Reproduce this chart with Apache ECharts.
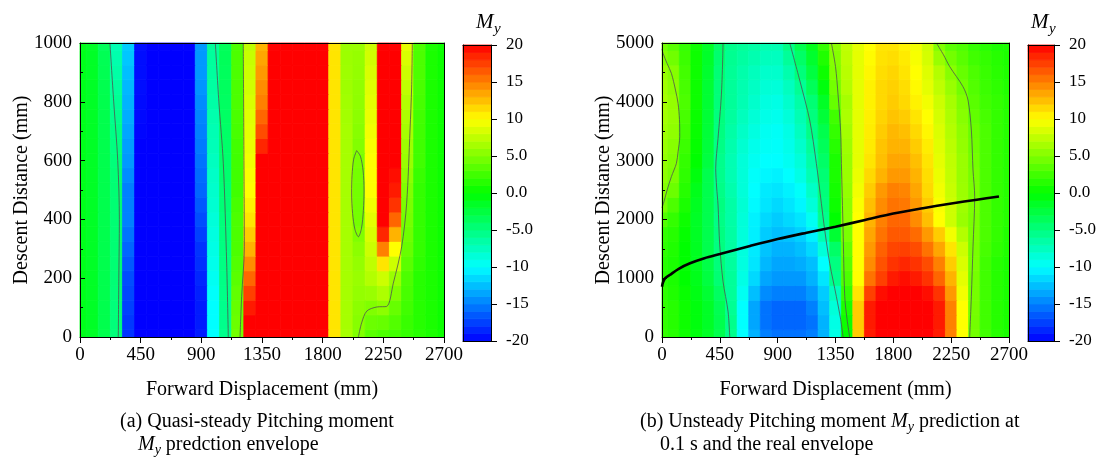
<!DOCTYPE html>
<html>
<head>
<meta charset="utf-8">
<script src="https://cdn.jsdelivr.net/npm/echarts@6/dist/echarts.min.js"></script>
<style>
  html, body { margin: 0; padding: 0; background: #ffffff; }
  #chart { width: 1102px; height: 462px; }
</style>
</head>
<body>
<div id="chart"></div>
<script>
// Cell centres along the forward displacement (mm), shared by both maps
const xCells = [0, 90, 180, 270, 360, 450, 540, 630, 720, 810, 900, 990, 1080, 1170, 1260, 1350,
  1440, 1530, 1620, 1710, 1800, 1890, 1980, 2070, 2160, 2250, 2340, 2430, 2520, 2610, 2700];

// (a) quasi-steady map: descent distance rows (mm)
const yCellsA = [0, 50, 100, 150, 200, 250, 300, 350, 400, 450, 500,
  550, 600, 650, 700, 750, 800, 850, 900, 950, 1000];
// (a) pitching moment My, one row per entry of yCellsA, one value per entry of xCells
const momentA = [
  [-1, -1.5, -3, -4.8, -18, -20, -20, -20, -20, -20, -19, -10, -5.5, 4.5, 20, 20, 20, 20, 20, 20, 20, 11, 6.5, 5, 3.5, 3, 2.5, 2, 1.5, 1, 0.5],
  [-1, -1.5, -3, -4.8, -17.8, -20, -20, -20, -20, -20, -19, -10, -5.5, 4.2, 20, 20, 20, 20, 20, 20, 20, 11, 6.5, 5.3, 4.2, 4, 3.2, 2.2, 1.5, 1, 0.5],
  [-1, -1.5, -3, -4.8, -17.5, -20, -20, -20, -20, -20, -19, -10, -5.5, 4, 19, 20, 20, 20, 20, 20, 20, 11, 6.5, 5.5, 5, 5.5, 4, 2.5, 1.5, 1, 0.5],
  [-1, -1.5, -3, -4.7, -17.2, -20, -20, -20, -20, -20, -18.8, -9.8, -5.3, 3.8, 17.5, 20, 20, 20, 20, 20, 20, 11, 6.5, 5.8, 6, 6.8, 5, 2.8, 1.5, 1, 0.5],
  [-1, -1.5, -3, -4.6, -17, -20, -20, -20, -20, -20, -18.5, -9.5, -5.2, 3.5, 16, 20, 20, 20, 20, 20, 20, 11, 6.5, 6, 7, 8, 6, 3, 1.5, 1, 0.5],
  [-1, -1.5, -3, -4.5, -16.5, -20, -20, -20, -20, -20, -18.2, -9.2, -5.1, 3.2, 14.5, 20, 20, 20, 20, 20, 20, 11, 6.5, 5.8, 7.5, 11, 8, 3.5, 1.8, 1, 0.5],
  [-1, -1.5, -3, -4.5, -16, -20, -20, -20, -20, -20, -18, -9, -5, 3, 13, 20, 20, 20, 20, 20, 20, 11, 6.5, 5.5, 8, 15, 10, 4, 2, 1, 0.5],
  [-1, -1.5, -3, -4.5, -15.5, -20, -20, -20, -20, -20, -17.5, -8.8, -4.9, 3, 12, 20, 20, 20, 20, 20, 20, 11, 6.5, 5, 8.5, 18.5, 13, 4.3, 2, 1, 0.5],
  [-1, -1.5, -3, -4.5, -15, -20, -20, -20, -20, -20, -17, -8.5, -4.8, 3, 11, 20, 20, 20, 20, 20, 20, 11, 6.5, 4.6, 9, 20, 16, 4.6, 2, 1, 0.5],
  [-1, -1.5, -3, -4.5, -15, -20, -20, -20, -20, -20, -16.5, -8.2, -4.6, 2.8, 10.5, 20, 20, 20, 20, 20, 20, 11, 6.5, 4.5, 9.5, 20, 18, 4.8, 2, 1, 0.5],
  [-1, -1.5, -3, -4.5, -15, -20, -20, -20, -20, -20, -16, -8, -4.5, 2.5, 10, 20, 20, 20, 20, 20, 20, 11, 6.5, 4.5, 10, 20, 19, 5, 2, 1, 0.5],
  [-1, -1.5, -3, -4.6, -14.5, -20, -20, -20, -20, -20, -15.8, -7.8, -4.3, 2.5, 9.8, 20, 20, 20, 20, 20, 20, 11, 6.5, 4.6, 10, 20, 19.5, 5.5, 2.2, 1, 0.5],
  [-1, -1.5, -3, -4.8, -14, -20, -20, -20, -20, -20, -15.5, -7.5, -4.2, 2.5, 9.5, 20, 20, 20, 20, 20, 20, 11, 6.5, 4.8, 10, 20, 20, 6, 2.5, 1, 0.5],
  [-1, -1.5, -3, -5, -13.8, -20, -20, -20, -20, -20, -15.2, -7.2, -4.1, 2.6, 9.2, 18.5, 20, 20, 20, 20, 20, 11, 6.5, 5.1, 9.8, 20, 20, 6.2, 2.5, 1, 0.5],
  [-1, -1.5, -3, -5.2, -13.5, -19.8, -20, -20, -20, -20, -15, -7, -4, 2.8, 9, 17, 20, 20, 20, 20, 20, 11, 6.5, 5.3, 9.5, 20, 20, 6.5, 2.5, 1, 0.5],
  [-1, -1.5, -3, -5.5, -13.2, -19.7, -20, -20, -20, -20, -14.8, -6.8, -3.9, 2.9, 8.8, 16, 20, 20, 20, 20, 20, 11, 6.4, 5.5, 9.2, 20, 20, 6.8, 2.6, 1, 0.5],
  [-1, -1.5, -3, -5.8, -13, -19.6, -20, -20, -20, -20, -14.5, -6.5, -3.8, 3, 8.5, 15, 20, 20, 20, 20, 20, 11, 6.3, 5.6, 9, 20, 20, 7, 2.8, 1, 0.5],
  [-1, -1.5, -3.1, -6.1, -12.8, -19.5, -20, -20, -20, -20, -14.2, -6.3, -3.7, 3, 8.2, 14.5, 20, 20, 20, 20, 20, 11, 6.2, 5.7, 8.8, 20, 20, 7.5, 2.9, 1, 0.5],
  [-1, -1.5, -3.2, -6.5, -12.5, -19.5, -20, -20, -20, -20, -14, -6.2, -3.6, 3, 8, 14, 20, 20, 20, 20, 20, 11, 6.2, 5.8, 8.5, 20, 20, 8, 3, 1, 0.5],
  [-1, -1.5, -3.3, -6.8, -12.2, -19.5, -20, -20, -20, -20, -14, -6.1, -3.5, 3, 7.8, 13.5, 20, 20, 20, 20, 20, 11, 6.1, 5.9, 8.2, 20, 20, 8.5, 3, 1, 0.5],
  [-1, -1.5, -3.5, -7, -12, -19.5, -20, -20, -20, -20, -14, -6, -3.5, 3, 7.5, 13, 20, 20, 20, 20, 20, 11, 6, 6, 8, 20, 20, 9, 3, 1, 0.5]
];

// (b) unsteady map: descent distance rows (mm)
const yCellsB = [0, 250, 500, 750, 1000, 1250, 1500, 1750, 2000, 2250, 2500,
  2750, 3000, 3250, 3500, 3750, 4000, 4250, 4500, 4750, 5000];
// (b) pitching moment My at 0.1 s
const momentB = [
  [2, 1.5, 0.5, -0.5, -1.5, -3, -5.5, -10, -13, -15, -15.5, -15.5, -15.5, -15, -13, -9, 0, 12, 19, 20, 20, 20, 20, 20, 19, 15, 10, 4.5, 2.5, 1.5, 1],
  [2, 1.5, 0.5, -0.5, -1.5, -3, -5.5, -10, -13.5, -15.5, -16, -16, -16, -15.5, -13, -9, 0.5, 12, 19, 20, 20, 20, 20, 20, 19, 15, 10, 4.5, 2.5, 1.5, 1],
  [2, 1.5, 0.5, -0.5, -1.5, -3.2, -5.8, -10, -13.5, -15.5, -16, -16, -16, -15, -12.5, -8.5, 1, 12, 19, 20, 20, 20, 20, 20, 19, 15, 10, 4.6, 2.5, 1.5, 1],
  [1.8, 1.2, 0.3, -0.8, -2, -3.8, -6, -9.5, -12.5, -14.5, -15, -15, -15, -14, -12, -7.5, 2, 11, 17.5, 19.5, 20, 20, 20, 19.5, 18, 14, 9.5, 4.6, 2.5, 1.5, 1],
  [1.5, 1, 0, -1, -2.5, -4.5, -6, -9, -11.5, -13.5, -14, -14, -14, -13, -11, -5.5, 3, 10, 15.5, 17.5, 19, 19.5, 19, 18, 16, 13, 9, 4.6, 2.5, 1.5, 1],
  [1.5, 1, 0, -1.2, -2.8, -4.8, -6.2, -8.8, -11, -12.8, -13.5, -13.5, -13.2, -12.5, -10, -5, 3.5, 10, 14.5, 16.8, 18, 18.5, 18, 17, 15, 12, 8.5, 4.7, 2.5, 1.5, 1],
  [1.8, 1.2, 0, -1.3, -3, -5, -6.3, -8.7, -10.8, -12.3, -13, -13, -12.5, -11.5, -8.5, -4, 4, 10, 14, 16.2, 17.3, 17.5, 17, 15.5, 13.5, 11, 8, 4.7, 2.8, 1.8, 1.2],
  [2, 1.5, 0.2, -1.4, -3, -5, -6.4, -8.6, -10.6, -12, -12.5, -12.3, -11.8, -10.5, -7, -2, 4.8, 10, 13.5, 15.5, 16.5, 16.5, 15.8, 14, 12, 9.5, 7, 4.8, 3, 2, 1.3],
  [3.2, 2, 0.5, -1.5, -3, -5.2, -6.5, -8.5, -10.5, -11.5, -12, -11.5, -11, -9.5, -5.5, 0, 5.5, 10, 13, 15, 16, 16, 14.5, 12.5, 10, 8, 6, 4.8, 3, 2, 1.5],
  [4.6, 3, 1, -1.3, -3, -5, -6.5, -8.3, -10.2, -11, -11.5, -11, -10.3, -8.5, -5, 0.5, 5.5, 9.8, 12.5, 14.5, 15.5, 15.3, 14, 12, 9.8, 8, 6.2, 4.9, 3, 2, 1.5],
  [5.2, 4.2, 1.5, -1, -3, -5.3, -6.8, -8.5, -10, -10.8, -11, -10.5, -9.8, -7.8, -4.8, 0.8, 5.8, 9.5, 12, 14, 15, 14.8, 13.5, 11.5, 9.5, 7.8, 6.1, 4.8, 3, 2, 1.5],
  [5.6, 4.8, 1.8, -0.5, -3, -5.5, -7, -8.5, -9.8, -10.3, -10.5, -10, -9, -7, -4.5, 1, 6, 9.2, 11.5, 13, 14, 14, 13, 11.3, 9.2, 7.6, 6, 4.7, 3, 2, 1.5],
  [5.8, 5, 2, 0, -2.5, -5.5, -7, -8.5, -9.5, -10, -10, -9.5, -8.5, -6.5, -4, 1, 6, 9, 11, 12.5, 13.5, 13.5, 12.5, 11, 9, 7.5, 6, 4.5, 3, 2, 1.5],
  [6, 5.3, 2.3, 0.2, -2.3, -5.2, -6.8, -8.2, -9.2, -9.7, -9.8, -9.2, -8, -6, -3.5, 1.5, 6.2, 9, 10.8, 12.3, 13, 13, 12, 10.7, 8.8, 7.3, 5.8, 4.3, 3, 2, 1.5],
  [6.2, 5.6, 2.6, 0.3, -2.2, -5, -6.5, -7.8, -8.8, -9.5, -9.7, -9, -7.5, -5.3, -3, 2, 6.4, 9, 10.7, 12, 12.8, 12.5, 11.5, 10.3, 8.6, 7, 5.6, 4.1, 3, 2, 1.5],
  [6.4, 5.8, 2.8, 0.4, -2.1, -4.9, -6.2, -7.4, -8.4, -9.1, -9.3, -8.5, -7, -4.9, -2.2, 2.5, 6.7, 9, 10.6, 11.7, 12.3, 12, 11, 10, 8.3, 6.8, 5.3, 3.8, 2.8, 2, 1.5],
  [6.5, 5.8, 3, 0.5, -2, -4.8, -6, -7, -8, -8.8, -9, -8, -6.5, -4.5, -1.5, 4, 6.5, 9, 10.5, 11.5, 12, 11.5, 10.5, 9.5, 8, 6.5, 5, 3.5, 2.5, 2, 1.5],
  [6.3, 5.5, 2.8, 0.5, -2, -4.7, -6, -6.9, -7.7, -8.4, -8.5, -7.5, -5.8, -3.5, -0.5, 4.5, 7, 9, 10.5, 11.5, 11.8, 11.3, 10.2, 9, 7.5, 6, 4.5, 3.2, 2.3, 1.8, 1.3],
  [6, 5.2, 2.6, 0.5, -1.8, -4.6, -5.9, -6.7, -7.4, -8, -8, -6.8, -4.8, -2.5, 0.5, 5, 7.2, 9, 10.3, 11.3, 11.6, 11, 10, 8.7, 7, 5.3, 4, 3, 2.2, 1.6, 1.2],
  [5.2, 4.4, 2.3, 0.5, -1.6, -4.3, -5.7, -6.3, -6.9, -7.4, -7.5, -6, -4, -1.8, 1.2, 5.2, 7.4, 9, 10.1, 11.1, 11.3, 10.8, 9.7, 8.3, 6, 4.5, 3.5, 2.5, 2, 1.5, 1.1],
  [4.5, 3.5, 2, 0.5, -1.5, -4, -5.5, -6, -6.5, -7, -7, -5.2, -3, -1, 2, 5.5, 7.5, 9, 10, 11, 11, 10.5, 9.5, 8, 5, 3.5, 3, 2, 1.5, 1, 1]
];

// Contour lines (mm, mm)
const contourA1 = [[222, 1000], [250, 800], [280, 600], [292, 400], [288, 200], [284, 0]];
const contourA2 = [[1004, 1000], [1030, 800], [1063, 591], [1088, 251], [1100, 0]];
const contourA3 = [[1211, 1000], [1216, 600], [1219, 307], [1199, 137], [1187, 0]];
const contourA4 = [[2052, 634], [2030, 605], [2018, 550], [2015, 490], [2022, 420], [2040, 365], [2065, 341],
  [2088, 370], [2102, 430], [2107, 500], [2100, 565], [2080, 615], [2052, 634]];
const contourA5 = [[2465, 1000], [2460, 850], [2448, 704], [2423, 455], [2386, 307], [2324, 183], [2275, 104],
  [2201, 102], [2127, 88], [2089, 48], [2065, 0]];

const contourB1 = [[0, 4900], [8, 4825], [40, 4650], [73, 4484], [105, 4200], [125, 3974], [136, 3700], [138, 3407],
  [125, 3150], [112, 2953], [73, 2727], [40, 2500], [15, 2300], [0, 2200]];
const contourB2 = [[475, 5000], [470, 4550], [462, 4116], [450, 3750], [436, 3378], [418, 2868], [425, 2550],
  [436, 2247], [449, 1567], [475, 944], [514, 434], [527, 0]];
const contourB3 = [[994, 5000], [1071, 4371], [1149, 3690], [1201, 2953], [1240, 2274], [1266, 1820], [1305, 1253],
  [1357, 686], [1390, 300], [1409, 0]];
const contourB4 = [[1318, 5000], [1350, 4600], [1370, 4116], [1390, 3500], [1396, 2953], [1409, 1820], [1422, 686],
  [1440, 300], [1460, 0]];
const contourB5 = [[2135, 5000], [2190, 4800], [2239, 4597], [2342, 4257], [2381, 4030], [2407, 3520], [2420, 2840],
  [2433, 2387], [2420, 1537], [2407, 686], [2394, 0]];

// Real envelope at 0.1 s (forward displacement, descent distance)
const envelopeCurve = [[0, 855], [8, 930], [25, 1000], [60, 1054], [130, 1160], [218, 1253], [330, 1340], [451, 1411],
  [685, 1548], [900, 1667], [1125, 1774], [1350, 1876], [1580, 1990], [1800, 2100], [2030, 2190], [2252, 2270],
  [2450, 2335], [2622, 2390]];

// Colour-bar bands (My level centres)
const barLevels = [-19.5, -18.5, -17.5, -16.5, -15.5, -14.5, -13.5, -12.5, -11.5, -10.5, -9.5, -8.5, -7.5, -6.5,
  -5.5, -4.5, -3.5, -2.5, -1.5, -0.5, 0.5, 1.5, 2.5, 3.5, 4.5, 5.5, 6.5, 7.5, 8.5, 9.5, 10.5, 11.5, 12.5, 13.5,
  14.5, 15.5, 16.5, 17.5, 18.5, 19.5];

const FONT = '"Liberation Serif", "Times New Roman", serif';
const BLACK = '#000000';
const CONTOUR = '#505050';

function fieldData(xs, ys, rows) {
  const out = [];
  rows.forEach(function (row, j) {
    row.forEach(function (v, i) { out.push([xs[i], ys[j], v]); });
  });
  return out;
}

// Filled rectangle per cell, clipped to the plotting area
function cellRenderer(dx, dy) {
  return function (params, api) {
    const x = api.value(0), y = api.value(1);
    const a = api.coord([x - dx / 2, y + dy / 2]);
    const b = api.coord([x + dx / 2, y - dy / 2]);
    const cs = params.coordSys;
    const x0 = Math.max(a[0], cs.x), x1 = Math.min(b[0], cs.x + cs.width);
    const y0 = Math.max(a[1], cs.y), y1 = Math.min(b[1], cs.y + cs.height);
    const c = api.visual('color');
    return {
      type: 'rect',
      shape: { x: x0, y: y0, width: x1 - x0, height: y1 - y0 },
      style: { fill: c, stroke: c, lineWidth: 0.8 }
    };
  };
}

function frameAxis(gridIndex, position) {
  return {
    type: 'value', gridIndex: gridIndex, position: position, min: 0, max: 1,
    axisLine: { show: true, onZero: false, lineStyle: { color: BLACK, width: 1 } },
    axisTick: { show: false }, axisLabel: { show: false }, splitLine: { show: false }, z: 10
  };
}

function plainNumber(v) { return String(v); }

function mainX(gridIndex) {
  return {
    type: 'value', gridIndex: gridIndex, position: 'bottom', min: 0, max: 2700, interval: 450,
    name: 'Forward Displacement (mm)', nameLocation: 'middle', nameGap: 43, nameMoveOverlap: false,
    nameTextStyle: { fontFamily: FONT, fontSize: 20, color: BLACK },
    axisLine: { show: true, onZero: false, lineStyle: { color: BLACK, width: 1 } },
    axisTick: { show: true, inside: false, length: 6, lineStyle: { color: BLACK } },
    minorTick: { show: true, splitNumber: 2, length: 3, lineStyle: { color: BLACK } },
    axisLabel: { fontFamily: FONT, fontSize: 19, color: BLACK, margin: 9, formatter: plainNumber },
    splitLine: { show: false }, minorSplitLine: { show: false }, z: 10
  };
}

function mainY(gridIndex, max, interval, nameGap) {
  return {
    type: 'value', gridIndex: gridIndex, position: 'left', min: 0, max: max, interval: interval,
    name: 'Descent Distance (mm)', nameLocation: 'middle', nameGap: nameGap, nameMoveOverlap: false,
    nameTextStyle: { fontFamily: FONT, fontSize: 20, color: BLACK },
    axisLine: { show: true, onZero: false, lineStyle: { color: BLACK, width: 1 } },
    axisTick: { show: true, inside: true, length: 5, lineStyle: { color: BLACK } },
    minorTick: { show: true, splitNumber: 2, length: 3, lineStyle: { color: BLACK } },
    axisLabel: { fontFamily: FONT, fontSize: 19, color: BLACK, margin: 8, formatter: plainNumber },
    splitLine: { show: false }, minorSplitLine: { show: false }, z: 10
  };
}

function barAxis(gridIndex) {
  return {
    type: 'value', gridIndex: gridIndex, position: 'right', min: -20, max: 20, interval: 5,
    axisLine: { show: true, onZero: false, lineStyle: { color: BLACK, width: 1 } },
    axisTick: { show: true, inside: false, length: 6, lineStyle: { color: BLACK } },
    axisLabel: {
      fontFamily: FONT, fontSize: 17, color: BLACK, margin: 15,
      formatter: function (v) { return Math.abs(v) === 5 || v === 0 ? v.toFixed(1) : String(v); }
    },
    splitLine: { show: false }, z: 10
  };
}

function contourSeries(data, xi, yi) {
  return {
    type: 'line', data: data, xAxisIndex: xi, yAxisIndex: yi, symbol: 'none', smooth: 0.3,
    lineStyle: { color: CONTOUR, width: 0.8 }, silent: true, z: 5, clip: true
  };
}

// Caption text with an italic M and subscript y
const captionRich = {
  n: { fontFamily: FONT, fontSize: 20, lineHeight: 24, fill: BLACK },
  i: { fontFamily: FONT, fontStyle: 'italic', fontSize: 20, lineHeight: 24, fill: BLACK },
  s: { fontFamily: FONT, fontStyle: 'italic', fontSize: 14, lineHeight: 14, verticalAlign: 'bottom', fill: BLACK }
};
function caption(left, top, text) {
  return { type: 'text', left: left, top: top, style: { text: text, rich: captionRich } };
}

const barData = barLevels.map(function (v) { return [0.5, v, v]; });

const chart = echarts.init(document.getElementById('chart'), null, { renderer: 'canvas' });

chart.setOption({
  backgroundColor: '#ffffff',
  animation: false,
  grid: [
    { left: 80, top: 43, width: 364, height: 294 },
    { left: 463, top: 45, width: 28, height: 296 },
    { left: 662, top: 43, width: 347, height: 294 },
    { left: 1028, top: 45, width: 26, height: 296 }
  ],
  xAxis: [
    mainX(0), frameAxis(0, 'top'),
    frameAxis(1, 'bottom'), frameAxis(1, 'top'),
    mainX(2), frameAxis(2, 'top'),
    frameAxis(3, 'bottom'), frameAxis(3, 'top')
  ],
  yAxis: [
    mainY(0, 1000, 200, 48), frameAxis(0, 'right'),
    frameAxis(1, 'left'), barAxis(1),
    mainY(2, 5000, 1000, 48), frameAxis(2, 'right'),
    frameAxis(3, 'left'), barAxis(3)
  ],
  visualMap: {
    type: 'continuous', show: false, min: -20, max: 20, dimension: 2,
    seriesIndex: [0, 1, 2, 3],
    inRange: { color: ['#0000ff', '#00ffff', '#00ff00', '#ffff00', '#ff0000'] }
  },
  series: [
    { type: 'custom', xAxisIndex: 0, yAxisIndex: 0, data: fieldData(xCells, yCellsA, momentA),
      renderItem: cellRenderer(xCells[1] - xCells[0], yCellsA[1] - yCellsA[0]), silent: true, z: 1 },
    { type: 'custom', xAxisIndex: 2, yAxisIndex: 3, data: barData,
      renderItem: cellRenderer(1, 1), silent: true, z: 1 },
    { type: 'custom', xAxisIndex: 4, yAxisIndex: 4, data: fieldData(xCells, yCellsB, momentB),
      renderItem: cellRenderer(xCells[1] - xCells[0], yCellsB[1] - yCellsB[0]), silent: true, z: 1 },
    { type: 'custom', xAxisIndex: 6, yAxisIndex: 7, data: barData,
      renderItem: cellRenderer(1, 1), silent: true, z: 1 },
    contourSeries(contourA1, 0, 0),
    contourSeries(contourA2, 0, 0),
    contourSeries(contourA3, 0, 0),
    contourSeries(contourA4, 0, 0),
    contourSeries(contourA5, 0, 0),
    contourSeries(contourB1, 4, 4),
    contourSeries(contourB2, 4, 4),
    contourSeries(contourB3, 4, 4),
    contourSeries(contourB4, 4, 4),
    contourSeries(contourB5, 4, 4),
    { type: 'line', data: envelopeCurve, xAxisIndex: 4, yAxisIndex: 4, symbol: 'none', smooth: 0.3,
      lineStyle: { color: BLACK, width: 2.6 }, silent: true, z: 6, clip: true }
  ],
  graphic: [
    { type: 'text', left: 476, top: 12, style: { text: 'M', font: 'italic 21px ' + FONT, fill: BLACK } },
    { type: 'text', left: 494, top: 22, style: { text: 'y', font: 'italic 15px ' + FONT, fill: BLACK } },
    { type: 'text', left: 1031, top: 12, style: { text: 'M', font: 'italic 21px ' + FONT, fill: BLACK } },
    { type: 'text', left: 1049, top: 22, style: { text: 'y', font: 'italic 15px ' + FONT, fill: BLACK } },
    caption(120, 412, '{n|(a) Quasi-steady Pitching moment}'),
    caption(138, 435, '{i|M}{s|y}{n| predction envelope}'),
    caption(640, 412, '{n|(b) Unsteady Pitching moment }{i|M}{s|y}{n| prediction at}'),
    caption(660, 435, '{n|0.1 s and the real envelope}')
  ]
});
</script>
</body>
</html>
